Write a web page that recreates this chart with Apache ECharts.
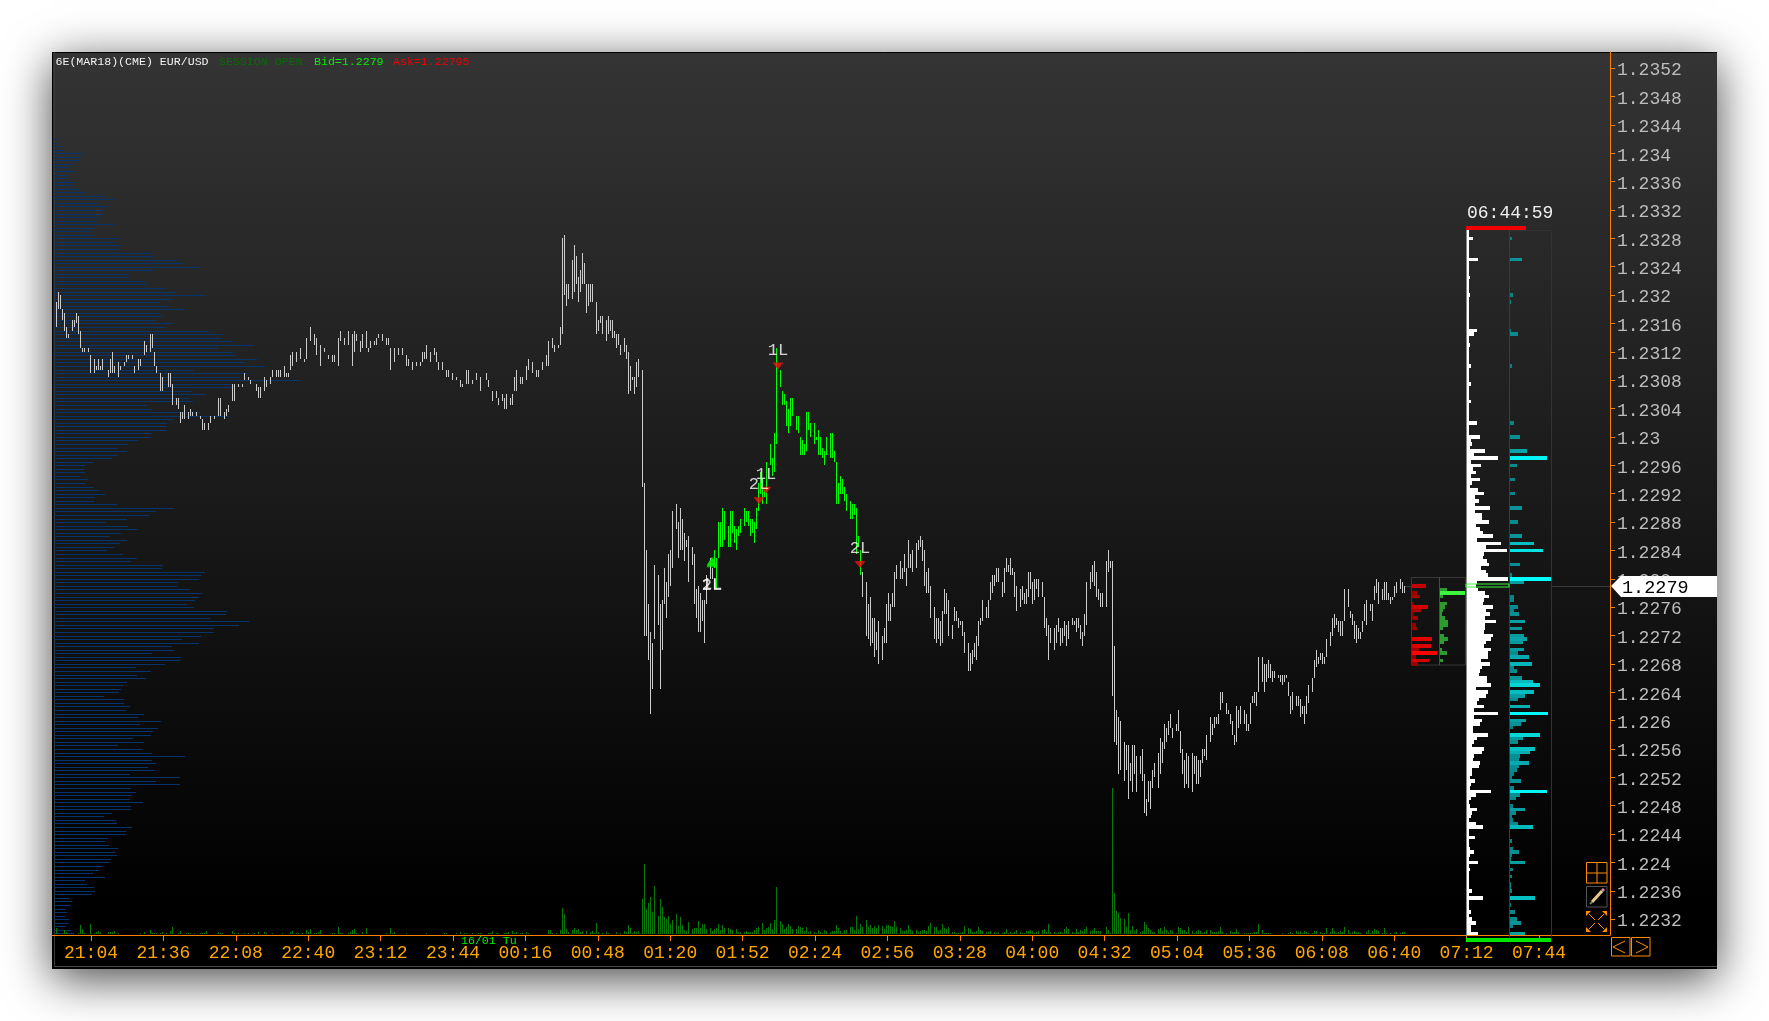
<!DOCTYPE html>
<html><head><meta charset="utf-8">
<style>html,body{margin:0;padding:0;background:#fff}#c{width:1769px;height:1021px}</style>
<script src="https://cdn.jsdelivr.net/npm/echarts@6/dist/echarts.min.js"></script></head>
<body><div id="c"></div>
<script>
// All prices are stored in ticks above 1.2200 (one tick = 0.00005). Bars: [bar slot, high tick, low tick]
const PRICE_BASE=1.22, TICK=0.00005;
const timeLabels=["21:04","21:36","22:08","22:40","23:12","23:44","00:16","00:48","01:20","01:52","02:24","02:56","03:28","04:00","04:32","05:04","05:36","06:08","06:40","07:12","07:44"];
const priceTicks=[1.2232,1.2236,1.224,1.2244,1.2248,1.2252,1.2256,1.226,1.2264,1.2268,1.2272,1.2276,1.228,1.2284,1.2288,1.2292,1.2296,1.23,1.2304,1.2308,1.2312,1.2316,1.232,1.2324,1.2328,1.2332,1.2336,1.234,1.2344,1.2348,1.2352];
const lastPrice=1.2279;
const barsOvernight=[[1,238,231],[2,241,236],[3,240,236],[4,236,233],[5,235,230],[6,231,228],[7,229,228],[9,233,230],[10,233,231],[11,235,232],[12,234,229],[13,230,225],[14,225,224],[15,225,224],[17,225,224],[18,223,218],[20,222,218],[21,220,219],[22,222,219],[23,220,219],[24,222,219],[27,219,217],[28,222,218],[29,224,218],[30,220,218],[32,221,217],[33,220,219],[35,221,220],[36,223,221],[37,223,222],[39,223,222],[40,220,218],[42,222,219],[43,222,220],[45,227,223],[46,226,224],[48,229,224],[49,229,225],[50,224,220],[51,220,218],[53,218,213],[54,217,213],[57,218,214],[58,218,214],[59,215,209],[61,211,209],[62,211,208],[63,207,204],[64,207,205],[65,209,205],[67,207,205],[68,208,206],[69,207,206],[71,207,206],[73,206,205],[74,205,202],[75,204,202],[77,204,202],[78,206,204],[80,206,205],[82,211,206],[83,211,206],[85,207,205],[86,208,206],[87,209,207],[89,215,210],[90,215,210],[92,215,214],[94,215,214],[95,218,216],[97,217,216],[98,216,215],[101,215,213],[102,214,211],[103,214,211],[105,217,213],[106,216,214],[108,217,215],[109,219,217],[111,219,217],[112,219,217],[113,219,217],[115,220,217],[116,218,217],[117,218,217],[118,223,219],[119,224,220],[121,224,221],[123,225,222],[125,222,221],[126,228,222],[128,231,227],[130,229,226],[131,228,223],[133,226,220],[135,225,224],[137,223,222],[139,223,221],[140,223,221],[142,228,220],[143,230,227],[145,228,226],[147,230,226],[149,229,220],[150,230,224],[151,229,227],[153,227,224],[154,229,225],[156,230,225],[157,225,224],[158,227,225],[160,227,226],[161,228,226],[162,229,228],[164,229,227],[166,228,226],[167,228,226],[168,225,219],[170,225,221],[172,225,223],[174,225,223],[176,223,220],[177,222,220],[179,221,219],[181,221,220],[183,221,220],[184,224,221],[185,224,222],[186,226,222],[188,224,221],[190,225,223],[191,224,221],[192,221,219],[194,221,219],[196,219,217],[197,219,217],[199,218,216],[201,217,216],[203,216,214],[204,215,214],[206,219,215],[207,219,215],[209,216,215],[211,218,216],[213,217,213],[216,218,216],[217,216,214],[219,213,210],[221,213,211],[222,211,209],[224,212,210],[225,211,208],[226,212,208],[228,211,209],[229,212,209],[230,217,213],[231,219,213],[233,217,215],[234,217,215],[236,220,216],[237,222,219],[239,221,218],[241,219,217],[242,219,217],[244,221,219],[246,223,220],[247,227,220],[249,228,225],[250,226,224],[252,226,225],[253,231,226],[254,256,229],[255,257,240],[256,243,237],[257,243,239],[259,250,239],[260,254,241],[261,251,243],[262,245,238],[263,247,241],[264,252,243],[265,249,243],[266,243,235],[267,243,237],[268,243,238],[269,243,238],[271,238,229],[272,233,230],[273,234,232],[274,234,229],[276,233,227],[277,234,229],[278,233,230],[279,233,228],[280,230,228],[281,229,225],[282,229,226],[283,226,223],[285,228,224],[286,226,222],[287,224,212],[288,220,213],[289,217,216],[290,217,212],[291,221,214],[292,222,217],[294,219,186],[295,187,144],[296,168,144],[297,153,137],[298,145,122],[299,142,129],[300,164,143],[302,161,147],[303,153,129],[304,154,140],[305,163,153],[306,159,149],[307,167,155],[308,168,158],[309,179,163],[311,181,174],[312,176,166],[313,180,168],[314,177,168],[315,173,165],[316,171,169],[317,172,159],[319,169,164],[320,167,153],[321,157,149],[322,158,145],[323,156,145],[324,154,148],[325,154,142],[326,161,153],[328,166,160],[329,163,160]];
const barsActive=[[330,168,163],[331,166,157],[332,176,166],[333,176,169],[334,180,169],[335,179,171],[337,175,169],[338,179,169],[339,179,173],[340,175,170],[341,174,168],[342,175,172],[343,177,173],[345,180,175],[346,179,176],[347,179,175],[348,177,172],[349,177,173],[350,176,170],[351,180,174],[352,187,179],[353,190,184],[354,188,181],[355,185,183],[356,193,181],[358,198,192],[359,194,189],[360,201,190],[361,225,198],[363,219,214],[364,213,209],[365,212,209],[366,210,203],[367,208,201],[368,211,203],[369,211,206],[371,206,202],[372,206,201],[373,200,195],[374,199,195],[375,198,195],[376,207,196],[377,207,202],[378,204,200],[380,204,198],[381,200,199],[382,202,195],[383,200,195],[384,197,194],[385,196,192],[386,200,195],[388,201,194],[389,201,194],[390,196,193],[391,193,181],[392,187,181],[393,189,184],[394,188,184],[395,186,182],[396,184,179],[398,182,177],[399,181,177],[400,181,178],[401,180,167],[402,172,169],[403,168,161]];
const barsMorning=[[404,162,155],[406,159,144],[407,153,143],[408,155,141],[409,149,142],[410,149,138],[411,145,140],[412,148,136],[414,144,137],[415,146,142],[416,153,142],[417,156,148],[418,153,148],[419,156,152],[420,162,152],[421,164,160],[423,165,160],[424,163,160],[425,167,162],[426,163,158],[427,171,163],[428,167,163],[429,168,162],[431,170,163],[432,171,168],[433,172,169],[434,171,165],[435,168,158],[436,162,156],[437,163,156],[438,158,149],[440,152,143],[441,149,142],[442,149,143],[443,148,141],[444,151,142],[445,157,150],[446,156,150],[447,154,144],[449,147,143],[450,152,148],[451,151,148],[452,149,146],[453,148,147],[454,148,144],[455,145,139],[457,142,134],[458,139,134],[459,140,136],[460,142,138],[461,144,137],[462,148,141],[463,149,147],[464,154,148],[466,152,149],[467,154,149],[468,159,154],[469,161,156],[470,161,158],[471,163,159],[472,163,159],[474,159,155],[475,163,156],[476,166,162],[477,164,162],[478,166,161],[479,163,161],[480,162,155],[481,158,151],[483,157,152],[484,158,154],[485,156,153],[486,157,153],[487,162,155],[488,162,157],[489,159,153],[490,160,154],[491,160,157],[492,160,155],[494,159,155],[495,155,146],[496,149,144],[497,147,137],[498,146,142],[500,146,140],[501,147,142],[502,149,145],[503,146,141],[504,146,142],[505,148,144],[506,147,141],[507,148,143],[509,149,147],[510,148,147],[511,149,145],[512,149,146],[513,147,143],[514,145,141],[515,150,144],[516,159,147],[518,162,157],[519,164,159],[520,165,158],[521,162,155],[522,157,154],[523,156,152],[524,156,152],[526,165,152],[527,168,162],[528,165,163]];
const barsLate=[[529,165,127],[530,141,114],[531,123,113],[532,121,105],[533,120,106],[535,114,103],[536,113,106],[537,113,98],[538,108,103],[539,113,100],[540,113,105],[541,110,100],[543,110,105],[544,112,103],[545,105,94],[546,98,93],[547,103,97],[548,103,95],[549,106,101],[550,108,104],[552,111,101],[553,115,105],[554,114,108],[555,119,112],[556,118,114],[557,120,116],[558,122,118],[559,118,115],[561,119,117],[562,123,117],[563,117,111],[564,112,105],[565,109,101],[566,111,102],[567,110,101],[569,111,100],[570,110,105],[571,110,102],[572,109,102],[573,109,104],[574,112,108],[575,112,110],[576,116,109],[578,121,114],[579,119,116],[580,121,118],[581,121,119],[582,122,119],[583,128,123],[584,128,125],[586,125,122],[587,123,122],[588,122,119],[589,120,116],[590,116,113],[591,124,114],[592,123,118],[593,124,119],[595,123,119],[596,122,117],[597,119,117],[598,125,119],[599,127,125],[600,128,125],[601,128,124],[602,138,128],[604,138,131],[605,136,128],[606,136,131],[607,137,132],[608,136,132],[609,134,131],[610,134,132],[612,133,132],[613,133,131],[614,133,130],[615,133,131],[616,133,132],[617,131,127],[618,127,122],[619,128,123],[621,127,124],[622,127,124],[623,126,121],[624,124,122],[625,124,119],[626,127,122],[627,130,125],[629,132,128],[630,137,132],[631,140,135],[632,138,136],[633,139,137],[634,139,136],[635,138,136],[636,143,138],[638,145,141],[639,149,144],[640,150,146],[641,149,147],[642,148,145],[643,148,144],[644,148,144],[645,157,148],[647,157,152],[648,151,149],[649,150,147],[650,148,143],[651,147,142],[652,146,143],[653,145,143],[654,148,145],[655,153,148],[656,154,147],[658,153,151],[659,153,148],[660,158,154],[661,160,156],[662,159,153],[664,157,154],[665,159,154],[666,159,154],[667,156,154],[668,155,153],[669,155,154],[670,158,155],[671,159,156],[673,160,157],[674,159,156],[675,158,156]];
// Volume: [bar slot, contracts]
const volumeEarly=[[1,6],[5,4],[6,2],[12,1],[13,9],[14,5],[15,1],[18,10],[20,1],[21,2],[22,3],[23,2],[27,2],[28,2],[29,2],[30,3],[32,1],[43,1],[45,2],[48,4],[49,1],[50,1],[51,1],[53,1],[54,2],[56,1],[58,3],[59,7],[62,1],[63,3],[66,1],[67,1],[68,1],[70,1],[73,1],[74,1],[75,1],[76,3],[82,2],[83,1],[84,1],[89,3],[90,1],[92,1],[95,1],[97,1],[100,1],[102,2],[105,2],[106,1],[109,1],[114,1],[118,2],[119,3],[121,1],[122,1],[124,1],[126,4],[127,2],[128,5],[130,1],[131,1],[132,2],[133,4],[139,1],[140,1],[142,7],[143,1],[144,1],[147,1],[148,2],[149,4],[150,5],[151,1],[154,2],[156,6],[166,1],[168,6],[169,1],[170,2],[176,1],[186,1],[195,1],[196,1],[201,1],[203,2],[205,1],[206,1],[209,1],[212,1],[213,1],[217,1],[218,1],[219,3],[221,1],[222,1],[225,1],[226,1],[227,2],[229,3],[230,1],[231,2],[233,1],[234,1],[236,2],[237,1]];
const volumeMid=[[247,4],[248,4],[249,1],[251,1],[253,4],[254,26],[255,20],[256,5],[257,2],[259,4],[260,6],[261,4],[262,5],[263,2],[264,3],[266,3],[268,2],[269,3],[270,1],[271,11],[272,2],[274,1],[276,2],[277,1],[281,2],[283,1],[285,3],[286,2],[287,9],[288,6],[289,1],[290,3],[291,2],[292,3],[294,35],[295,70],[296,25],[297,31],[298,37],[299,22],[300,48],[302,18],[303,35],[304,27],[305,17],[306,15],[307,18],[308,10],[309,14],[311,20],[312,8],[313,17],[314,9],[315,4],[316,3],[317,12],[319,5],[320,6],[321,6],[322,13],[323,6],[324,10],[325,10],[326,5],[328,6],[329,3],[330,5],[331,6],[332,10],[333,4],[334,9],[335,6],[337,6],[338,5],[339,4],[341,5],[342,2],[343,2],[345,2],[346,3],[347,2],[348,2],[349,2],[350,4],[351,6],[352,7],[354,11],[355,4],[356,6],[357,7],[358,11],[359,5],[360,14],[361,47],[363,13],[364,10],[365,5],[366,7],[367,10],[368,8],[369,5],[371,5],[372,8],[373,7],[374,6],[375,3],[376,7],[377,2],[378,3],[380,2],[381,1],[382,4],[383,2],[384,1],[385,4],[386,3],[388,2],[389,3],[390,3],[391,9],[392,6],[393,3],[394,1],[395,4],[396,4],[398,7],[399,7],[400,4],[401,18],[402,5],[403,10],[404,7],[406,14],[407,7],[408,9],[409,6],[410,8],[411,6],[412,9],[414,8],[415,5],[416,9],[417,9],[418,8],[419,7],[420,13],[421,7],[423,6],[424,3],[425,3],[426,4],[427,9],[428,5],[429,3],[431,4],[432,2],[433,3],[434,4],[435,4],[436,3],[437,8],[438,11],[440,7],[441,7],[442,3],[443,4],[444,10],[445,6],[446,5],[447,7],[449,2],[450,2],[451,1],[452,1],[453,1],[454,2],[455,8],[457,6],[458,5],[459,2],[460,2],[461,3],[462,7],[463,4],[464,3],[466,2],[467,2],[468,3]];
const volumeLate=[[470,2],[471,1],[472,2],[474,1],[475,2],[476,5],[477,1],[478,2],[479,1],[480,2],[481,4],[483,2],[484,1],[485,1],[486,3],[487,3],[488,4],[489,3],[490,1],[491,2],[492,3],[494,4],[495,5],[496,2],[497,10],[498,2],[500,2],[501,1],[502,2],[503,2],[504,1],[505,5],[506,7],[507,5],[509,2],[510,1],[511,5],[512,2],[513,4],[514,3],[515,5],[516,7],[518,3],[519,4],[520,6],[521,3],[522,3],[523,3],[526,7],[527,4],[528,1],[529,146],[530,41],[531,23],[532,21],[533,16],[535,15],[536,7],[537,21],[538,4],[539,8],[540,3],[541,5],[543,2],[544,3],[545,12],[546,9],[547,6],[548,4],[549,2],[550,2],[552,5],[553,6],[554,3],[555,7],[556,4],[557,2],[558,4],[559,3],[561,1],[562,7],[563,6],[564,4],[565,4],[566,2],[567,7],[569,3],[570,1],[571,3],[572,4],[573,3],[574,1],[575,2],[576,4],[578,4],[579,2],[580,2],[581,2],[582,3],[583,7],[584,2],[586,1],[588,3],[589,2],[590,2],[591,5],[592,2],[595,1],[596,1],[597,1],[598,1],[599,1],[600,2],[601,2],[602,10],[604,4],[605,1],[606,1],[607,1],[608,1],[614,1],[617,1],[618,2],[619,1],[621,3],[622,2],[623,3],[624,1],[625,3],[626,2],[627,1],[629,1],[630,3],[631,3],[633,2],[634,1],[635,1],[636,6],[638,2],[639,6],[640,3],[641,1],[642,2],[643,3],[644,2],[645,7],[647,4],[648,1],[649,2],[650,3],[651,2],[652,2],[653,1],[656,2],[657,4],[658,1],[659,3],[660,5],[661,4],[662,3],[664,1],[665,6],[666,1],[668,1],[670,1],[671,2],[673,1],[674,2],[675,2]];
// Left session volume profile: one value per tick, from tick 284 downward
const profileStartTick=284;
const profileRows=[3,4,7,10,30,27,26,20,16,22,14,14,21,20,26,32,51,62,44,53,49,50,46,44,62,42,38,40,65,60,67,65,98,99,124,130,146,100,75,75,91,93,112,121,152,118,105,116,132,105,109,102,119,112,155,169,167,179,200,164,179,182,203,191,211,140,195,185,245,179,179,138,151,135,139,93,98,146,175,119,113,113,113,98,97,84,74,63,73,64,58,39,31,30,31,26,34,31,40,45,51,41,40,63,120,102,95,73,52,74,84,67,56,73,66,60,53,69,83,77,109,108,151,147,145,124,123,136,148,145,141,133,140,173,172,156,195,185,160,160,147,128,145,118,120,98,127,126,111,82,97,83,92,73,69,67,65,50,70,70,76,72,90,84,107,86,104,99,97,79,90,64,88,98,131,98,102,94,101,76,126,102,126,77,82,78,76,89,77,77,58,50,62,63,78,72,71,54,51,55,64,61,63,57,55,49,45,39,51,31,33,40,41,38,15,18,17,12,13,11,15,15,12,17,20];
// Right-hand profile (white): one value per tick, from tick 258 downward
const ladderStartTick=258;
const ladderTotal=[2,2,6,2,2,2,2,2,11,2,2,2,2,3,2,2,2,2,3,2,2,2,2,2,2,2,2,2,10,7,2,2,3,2,2,2,2,2,4,2,2,2,2,4,2,2,2,2,4,2,2,2,2,2,10,2,2,2,13,4,5,3,18,7,31,4,14,6,9,4,13,5,3,11,17,8,12,8,23,8,15,15,22,9,13,16,26,10,34,19,40,17,16,20,22,14,19,21,41,10,9,11,18,22,17,16,26,19,23,18,29,18,18,17,26,24,19,17,24,21,21,14,23,15,13,12,20,20,24,9,21,19,12,10,17,7,31,7,15,13,6,6,21,10,7,5,17,15,7,6,13,12,5,5,3,8,4,3,24,9,4,2,3,10,5,4,2,9,16,2,2,8,2,2,3,7,3,2,11,2,3,2,2,2,2,2,5,2,16,2,2,2,4,2,5,9,4,4,11];
// Right-hand teal ladder: [tick, value]
const ladderTeal=[[256,3],[252,1],[250,13],[248,1],[242,1],[240,4],[238,2],[232,1],[230,2],[229,9],[220,3],[215,1],[204,5],[200,11],[196,18],[194,38],[192,8],[188,6],[184,6],[180,13],[176,9],[172,13],[170,25],[168,34],[164,11],[161,3],[160,42],[159,15],[155,5],[154,5],[152,9],[151,5],[150,10],[148,16],[146,13],[144,15],[143,18],[142,14],[140,15],[139,9],[138,20],[136,23],[135,5],[134,8],[132,13],[131,24],[130,31],[128,25],[127,16],[126,9],[124,21],[122,39],[120,17],[119,12],[118,4],[116,31],[115,14],[114,9],[112,26],[111,21],[110,11],[109,10],[108,20],[107,10],[106,8],[105,5],[104,3],[103,12],[101,5],[100,38],[99,11],[98,7],[96,4],[95,16],[94,7],[93,3],[92,4],[91,9],[90,24],[89,1],[86,3],[84,4],[83,10],[82,3],[81,2],[80,16],[78,4],[76,3],[74,2],[73,2],[72,3],[70,26],[68,2],[66,6],[64,8],[63,12],[62,4],[60,16]];
const askLadder=[[158,14],[156,5],[155,8],[153,2],[152,16],[151,9],[150,2],[149,6],[147,4],[146,5],[143,20],[141,19],[140,7],[139,25],[138,4],[137,17],[136,6]];
const bidLadder=[[157,7],[156,25],[155,3],[153,7],[152,5],[151,3],[150,2],[149,5],[148,8],[147,8],[146,3],[144,4],[143,8],[142,4],[140,2],[139,7],[137,3]];
// Trade signals: [bar slot, tick, label]
const sellSignals=[[362,220,"1L"],[356,185,"1L"],[352.5,182,"2L"],[403,164,"2L"]];
const buySignals=[[329,164.5,"2L"],[329,165,"1L"]];

const P=t=>PRICE_BASE+t*TICK;
const L=52,R=1610,T=52,B=935,PANEL_R=1717,PANEL_B=969;
const TICK_PX=3.546;
const PMIN=1.2332-(B-210)/TICK_PX*TICK, PMAX=1.2332+(210-T)/TICK_PX*TICK;
const FONT='"Liberation Mono"';
const slotTick=i=>18.5+36.2*i;

function vBars(color){return (params,api)=>{
  const a=api.coord([api.value(0),api.value(1)]),b=api.coord([api.value(0),api.value(2)]);
  const x=Math.round(a[0]),y0=Math.round(a[1]),y1=Math.round(b[1]);
  return {type:'rect',shape:{x:x,y:y0,width:1,height:Math.max(1,y1-y0)},style:{fill:color}};
};}
function rowBars(thin,colorFn){return (params,api)=>{
  const v=api.value(0),p=api.value(1);
  const a=api.coord([0,p]),b=api.coord([v,p]);
  const h=TICK_PX;
  if(thin){return {type:'rect',shape:{x:a[0],y:Math.round(a[1]),width:b[0]-a[0],height:1},style:{fill:colorFn(v)}};}
  const y0=Math.round(a[1]-h/2),y1=Math.round(a[1]+h/2);
  return {type:'rect',shape:{x:a[0],y:y0,width:b[0]-a[0],height:y1-y0},style:{fill:colorFn(v)}};
};}
const lerp=(a,b,f)=>{f=Math.min(1,f);return `rgb(${a.map((c,i)=>Math.round(c+(b[i]-c)*f)).join(',')})`;};
const tealC=v=>lerp([8,125,130],[0,255,255],Math.pow(v/40,1.5));
const redC=v=>lerp([125,0,0],[255,0,0],v/25);
const greenC=v=>v>=20?'#3cf53c':'#2d9a2d';

const sideGrids=[{left:1467,w:42},{left:1509,w:42},{left:1412,w:28},{left:1440,w:26}];
const grids=[{left:L,top:T,width:R-L,height:B-T}].concat(sideGrids.map(g=>({left:g.left,top:T,width:g.w,height:B-T})));
const xAxes=[
 {type:'value',gridIndex:0,min:-1,max:778,position:'bottom',splitLine:{show:false},
  axisLine:{show:true,onZero:false,lineStyle:{color:'#ff7f00',width:1}},
  axisTick:{show:true,length:6,inside:false,lineStyle:{color:'#ff7f00'},customValues:timeLabels.map((_,i)=>slotTick(i))},
  axisLabel:{show:true,customValues:timeLabels.map((_,i)=>slotTick(i)),color:'#ffa500',fontFamily:FONT,fontSize:18,margin:9,
    formatter:v=>timeLabels[Math.round((v-18.5)/36.2)]||''}},
 {type:'value',gridIndex:0,min:-2,max:1556,show:false}
].concat(sideGrids.map((g,i)=>({type:'value',gridIndex:i+1,min:0,max:g.w,show:false})));
const yAxes=[
 {type:'value',gridIndex:0,min:PMIN,max:PMAX,position:'right',splitLine:{show:false},
  axisLine:{show:true,onZero:false,lineStyle:{color:'#ff7f00',width:1}},
  axisTick:{show:true,length:5,lineStyle:{color:'#ff7f00'},customValues:priceTicks},
  axisLabel:{show:true,customValues:priceTicks,color:'#bdbdbd',fontFamily:FONT,fontSize:18,margin:7,verticalAlign:'top',lineHeight:5,formatter:v=>String(v)}},
 {type:'value',gridIndex:0,min:0,max:B-T,show:false}
].concat(sideGrids.map((g,i)=>({type:'value',gridIndex:i+1,min:PMIN,max:PMAX,show:false})));

const custom=(name,x,y,data,ri,z)=>({type:'custom',name,xAxisIndex:x,yAxisIndex:y,data,renderItem:ri,silent:true,animation:false,z:z||3,clip:false});
const barData=a=>a.map(b=>[b[0],P(b[1]),P(b[2])]);
const rowData=(arr,start)=>arr.map((v,i)=>[v,P(start-i)]);
const pairData=arr=>arr.map(r=>[r[1],P(r[0])]);
const volR=(params,api)=>{
  const a=api.coord([api.value(0),api.value(1)]),b=api.coord([api.value(0),0]);
  const y=Math.round(a[1]);
  return {type:'rect',shape:{x:Math.round(a[0]),y:y-1,width:1,height:Math.round(b[1])-y},style:{fill:'#087808'}};
};
const series=[
 custom('Session profile',1,0,rowData(profileRows,profileStartTick),rowBars(true,()=>'#05336b'),2),
 custom('Volume',0,1,volumeEarly.concat(volumeMid,volumeLate),volR,2),
 custom('Bars overnight',0,0,barData(barsOvernight),vBars('#cccccc'),4),
 custom('Bars morning',0,0,barData(barsMorning),vBars('#cccccc'),4),
 custom('Bars late',0,0,barData(barsLate),vBars('#cccccc'),4),
 custom('Bars active',0,0,barData(barsActive),vBars('#00ff00'),4),
 custom('Total ladder',2,2,rowData(ladderTotal,ladderStartTick),rowBars(false,()=>'#ffffff'),5),
 custom('Teal ladder',3,3,pairData(ladderTeal),rowBars(false,tealC),5),
 custom('Ask ladder',4,4,pairData(askLadder),rowBars(false,redC),5),
 custom('Bid ladder',5,5,pairData(bidLadder),rowBars(false,greenC),5),
 {type:'scatter',xAxisIndex:0,yAxisIndex:0,silent:true,animation:false,z:7,symbol:'triangle',symbolRotate:180,symbolSize:[11,7],
  itemStyle:{color:'#f01010'},data:sellSignals.map(s=>({value:[s[0],P(s[1])],label:{formatter:s[2]}})),
  label:{show:true,position:'top',distance:4,color:'#fff',fontFamily:FONT,fontSize:17}},
 {type:'scatter',xAxisIndex:0,yAxisIndex:0,silent:true,animation:false,z:7,symbol:'triangle',symbolSize:[11,9],
  itemStyle:{color:'#00f000'},data:buySignals.map(s=>({value:[s[0],P(s[1])],label:{formatter:s[2]}})),
  label:{show:true,position:'bottom',distance:10,color:'#fff',fontFamily:FONT,fontSize:17}},
 custom('Last price',0,0,[[778,lastPrice]],(params,api)=>{
   const p=api.coord([api.value(0),api.value(1)]);const x=Math.round(p[0]),y=Math.round(p[1]);
   return {type:'group',children:[
     {type:'rect',shape:{x:x-59,y:y,width:59,height:1},style:{fill:'#3a3a3a'}},
     {type:'rect',shape:{x:x-205,y:y,width:7,height:1},style:{fill:'#3a3a3a'}},
     {type:'rect',shape:{x:x-144,y:y-2,width:43,height:3},style:{fill:'none',stroke:'#3cf53c',lineWidth:1}},
     {type:'polygon',shape:{points:[[x+1,y],[x+11,y-10],[PANEL_R,y-10],[PANEL_R,y+11],[x+11,y+11]]},style:{fill:'#fff'}},
     {type:'text',style:{text:String(api.value(1)),x:x+12,y:y+2,fill:'#000',font:'18.5px '+FONT,textVerticalAlign:'middle'}}
   ]};
 },9)
];

const O='#ff8c00';
const line=(x1,y1,x2,y2,c,w,z)=>({type:'line',shape:{x1,y1,x2,y2},style:{stroke:c,lineWidth:w||1},z:z||1,silent:true});
const box=(x,y,w,h,st,fill,z)=>({type:'rect',shape:{x,y,width:w,height:h},style:{fill:fill||'none',stroke:st||null,lineWidth:1},z:z||1,silent:true});
const txt=(t,x,y,c,size,z)=>({type:'text',style:{text:t,x,y,fill:c,font:size+'px '+FONT,textVerticalAlign:'middle'},z:z||6,silent:true});
const tri=(pts,c)=>({type:'polygon',shape:{points:pts},style:{fill:c},z:6,silent:true});
const chart=echarts.init(document.getElementById('c'),null,{renderer:'canvas'});
chart.setOption({
 animation:false,backgroundColor:'#ffffff',
 grid:grids,xAxis:xAxes,yAxis:yAxes,series,
 graphic:{elements:[
  {type:'rect',z:-10,silent:true,shape:{x:L,y:T,width:PANEL_R-L,height:PANEL_B-T},
   style:{fill:new echarts.graphic.LinearGradient(0,0,0,1,[{offset:0,color:'#343434'},{offset:.5,color:'#191919'},{offset:.93,color:'#000000'},{offset:1,color:'#000000'}]),
   shadowBlur:44,shadowColor:'rgba(0,0,0,.72)',shadowOffsetY:10}},
  line(L+.5,T,L+.5,PANEL_B,'#000',1,-5),
  line(L,T+.5,PANEL_R,T+.5,'#000',1,-5),
  line(L+2,PANEL_B-2.5,PANEL_R,PANEL_B-2.5,'#4a4a4a',1,-5),
  line(L+2.5,T,L+2.5,PANEL_B-2,'#3a3a3a',1,-5),
  txt('6E(MAR18)(CME) EUR/USD',55.5,61.5,'#f2f2f2',11.6),
  txt('SESSION OPEN',219,61.5,'#0a6a0a',11.6),
  txt('Bid=1.2279',314,61.5,'#00ee00',11.6),
  txt('Ask=1.22795',393,61.5,'#ee0000',11.6),
  txt('16/01 Tu',461,941,'#00ee00',11.6,7),
  txt('06:44:59',1467,213,'#f0f0f0',18),
  box(1466,226,60,4,null,'#f00000',6),
  box(1466,938,85,4,null,'#00e600',6),
  line(1466.5,230,1466.5,937,'#888',1,1),
  line(1509.5,230,1509.5,937,'#3c3c3c',1,6),
  line(1551.5,230,1551.5,937,'#333',1,6),
  line(1509,230.5,1551,230.5,'#333',1,6),
  box(1411.5,577.5,54,87.5,'#383838'),
  line(1439.5,577,1439.5,665,'#2f5f2f',1,6),
  // tool buttons
  box(1586.5,862.5,20.5,20.5,O,null,6),line(1597,862,1597,883,O,1,6),line(1586,873,1607,873,O,1,6),
  box(1586.5,886.5,20.5,20.5,'#555',null,6),line(1592,902,1602,891,'#e8c98a',3,6),line(1602,891,1604,889,'#d08a9a',3,6),line(1590,904,1592,902,'#777',2,6),
  tri([[1586,911],[1591,911],[1586,916]],O),tri([[1607,911],[1602,911],[1607,916]],O),tri([[1586,932],[1591,932],[1586,927]],O),tri([[1607,932],[1602,932],[1607,927]],O),
  line(1589,914,1595,920,O,1,6),line(1604,914,1598,920,O,1,6),line(1589,929,1595,923,O,1,6),line(1604,929,1598,923,O,1,6),
  box(1611.5,937.5,18.5,18.5,O,null,6),box(1631.5,937.5,18.5,18.5,O,null,6),
  line(1625,941,1613,947,O,1,6),line(1613,947,1625,953,O,1,6),
  line(1636,941,1648,947,O,1,6),line(1648,947,1636,953,O,1,6)
 ]}
});
</script></body></html>
